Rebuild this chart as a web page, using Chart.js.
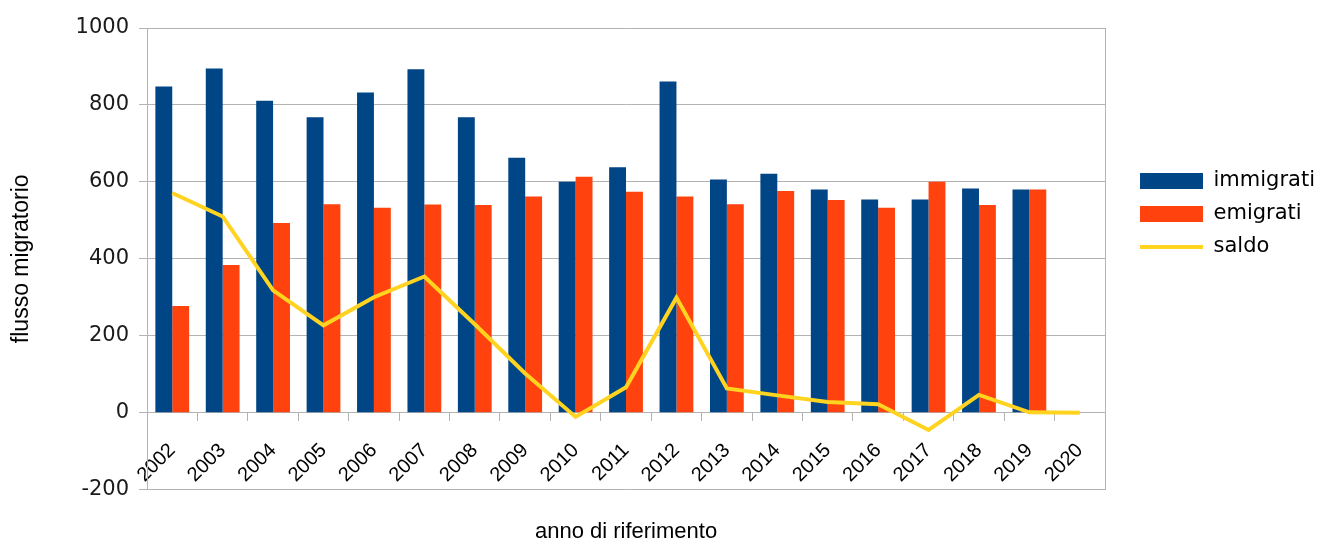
<!DOCTYPE html>
<html lang="it">
<head>
    <meta charset="UTF-8">
    <title>Flusso migratorio</title>
    <script src="https://cdn.jsdelivr.net/npm/chart.js"></script>
    <style>
        body {
            margin: 0;
            background: #ffffff;
        }

        .chart-box {
            width: 1319px;
            height: 545px;
        }
    </style>
</head>
<body>
    <div class="chart-box">
        <canvas id="flussoChart"></canvas>
    </div>

    <script>
        // anni di riferimento
        const anni = ['2002', '2003', '2004', '2005', '2006', '2007', '2008', '2009', '2010', '2011',
                      '2012', '2013', '2014', '2015', '2016', '2017', '2018', '2019', '2020'];

        // valori
        const immigrati = [848, 895, 811, 768, 832, 893, 768, 663, 600, 638, 861, 606, 621, 580, 554, 554, 583, 580, null];
        const emigrati = [277, 384, 493, 542, 533, 541, 540, 562, 613, 574, 562, 542, 576, 553, 533, 600, 540, 580, null];
        const saldo = [571, 510, 318, 227, 300, 354, 230, 102, -11, 66, 299, 63, 45, 28, 22, -45, 46, 1, 0];

        // asse y
        const yMin = -200;
        const yMax = 1000;
        const yStep = 200;

        const gridColor = '#b3b3b3';

        const ctx = document.getElementById('flussoChart').getContext('2d');
        new Chart(ctx, {
            type: 'bar',
            data: {
                labels: anni,
                datasets: [
                    {
                        label: 'immigrati',
                        data: immigrati,
                        backgroundColor: '#004586',
                        borderWidth: 0,
                        pointStyle: 'rect',
                        categoryPercentage: 0.67,
                        barPercentage: 1.0,
                        order: 1
                    },
                    {
                        label: 'emigrati',
                        data: emigrati,
                        backgroundColor: '#ff420e',
                        borderWidth: 0,
                        pointStyle: 'rect',
                        categoryPercentage: 0.67,
                        barPercentage: 1.0,
                        order: 1
                    },
                    {
                        type: 'line',
                        label: 'saldo',
                        data: saldo,
                        borderColor: '#ffd320',
                        backgroundColor: '#ffd320',
                        borderWidth: 4,
                        pointRadius: 0,
                        pointStyle: 'line',
                        tension: 0,
                        order: 0
                    }
                ]
            },
            options: {
                responsive: true,
                maintainAspectRatio: false,
                animation: false,
                layout: {
                    padding: { top: 28, left: 0, right: -6, bottom: 0 }
                },
                scales: {
                    x: {
                        position: { y: 0 },
                        offset: true,
                        grid: {
                            display: true,
                            drawOnChartArea: false,
                            offset: true,
                            color: gridColor,
                            tickLength: 8
                        },
                        border: { display: true, color: gridColor },
                        ticks: {
                            color: '#000',
                            minRotation: 45,
                            maxRotation: 45,
                            padding: 18,
                            font: { family: 'Liberation Sans', size: 20 }
                        }
                    },
                    x2: {
                        type: 'category',
                        position: 'bottom',
                        grid: { display: false },
                        border: { display: false },
                        ticks: { display: false },
                        title: {
                            display: true,
                            text: 'anno di riferimento',
                            color: '#000',
                            font: { family: 'Liberation Sans', size: 22 },
                            padding: { top: 21, bottom: 0 }
                        }
                    },
                    y: {
                        min: yMin,
                        max: yMax,
                        ticks: {
                            stepSize: yStep,
                            color: '#1a1a1a',
                            padding: 10,
                            font: { family: 'DejaVu Sans', size: 21 },
                            callback: function(value) {
                                return String(value);
                            }
                        },
                        grid: {
                            color: gridColor,
                            tickLength: 8
                        },
                        border: { display: true, color: gridColor },
                        title: {
                            display: true,
                            text: 'flusso migratorio',
                            color: '#000',
                            font: { family: 'Liberation Sans', size: 23 },
                            padding: { top: 8, bottom: 30 }
                        }
                    },
                    y2: {
                        position: 'right',
                        min: yMin,
                        max: yMax,
                        grid: { display: false },
                        border: { display: true, color: gridColor },
                        ticks: { display: false },
                        afterFit: function(scale) {
                            scale.width = 23;
                        }
                    }
                },
                plugins: {
                    tooltip: { enabled: false },
                    legend: {
                        position: 'right',
                        align: 'start',
                        title: {
                            display: true,
                            text: ' ',
                            padding: { top: 116, bottom: 0 }
                        },
                        labels: {
                            usePointStyle: true,
                            pointStyleWidth: 63,
                            boxHeight: 16,
                            padding: 12,
                            color: '#000',
                            font: { family: 'DejaVu Sans', size: 21 },
                            sort: function(a, b) {
                                return a.datasetIndex - b.datasetIndex;
                            }
                        }
                    }
                }
            }
        });
    </script>
</body>
</html>
